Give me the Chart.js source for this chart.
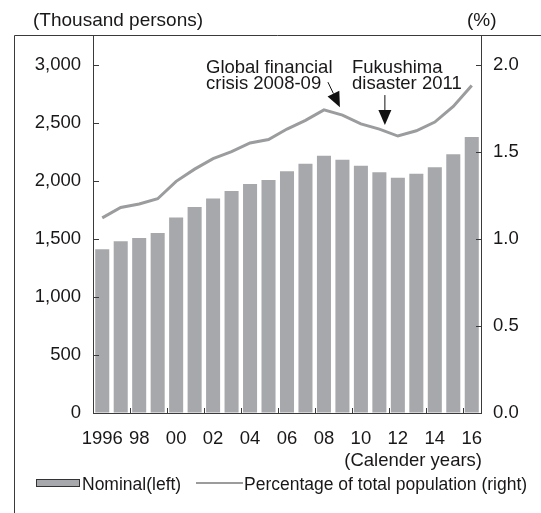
<!DOCTYPE html>
<html>
<head>
<meta charset="utf-8">
<script src="https://cdn.jsdelivr.net/npm/chart.js@4/dist/chart.umd.min.js"></script>
<style>
  html, body { margin: 0; padding: 0; background: #fff; }
  #wrap { width: 541px; height: 513px; }
</style>
</head>
<body>
<div id="wrap"><canvas id="chart"></canvas></div>
<script>
const years = ['1996','1997','1998','1999','2000','2001','2002','2003','2004','2005','2006',
               '2007','2008','2009','2010','2011','2012','2013','2014','2015','2016'];
const xTickLabels = ['1996','','98','','00','','02','','04','','06','','08','','10','','12','','14','','16'];
const leftTicks = [0, 500, 1000, 1500, 2000, 2500, 3000];
const rightTicks = [0, 0.5, 1.0, 1.5, 2.0];
// foreign residents, thousand persons (left axis)
const nominal = [1410,1479,1508,1551,1684,1773,1848,1911,1972,2006,2081,2147,2216,2181,2130,2073,2026,2060,2116,2228,2377];
// share of total population, % (right axis)
const pct = [1.12,1.18,1.20,1.23,1.33,1.40,1.46,1.50,1.55,1.57,1.63,1.68,1.74,1.71,1.66,1.63,1.59,1.62,1.67,1.76,1.88];

const FONT = 'Liberation Sans, Arial, Helvetica, sans-serif';
const TEXT = '#1a1718';
const AXIS = '#3a3a3a';
const BAR = '#a7a8ab';
const LINE = '#9b9c9e';

function arrow(ctx, x0, y0, x1, y1) {
    const ang = Math.atan2(y1 - y0, x1 - x0);
    const len = 15, half = 6.5;
    const bx = x1 - len * Math.cos(ang), by = y1 - len * Math.sin(ang);
    ctx.strokeStyle = '#111';
    ctx.lineWidth = 1;
    ctx.beginPath();
    ctx.moveTo(x0, y0);
    ctx.lineTo(bx, by);
    ctx.stroke();
    ctx.fillStyle = '#111';
    ctx.beginPath();
    ctx.moveTo(x1, y1);
    ctx.lineTo(bx + half * Math.sin(ang), by - half * Math.cos(ang));
    ctx.lineTo(bx - half * Math.sin(ang), by + half * Math.cos(ang));
    ctx.closePath();
    ctx.fill();
}

const extras = {
    id: 'extras',
    afterDraw(chart) {
        const ctx = chart.ctx;
        const area = chart.chartArea;
        const x = chart.scales.x, y = chart.scales.y, y1 = chart.scales.y1;
        ctx.save();

        // outer frame (top + left)
        ctx.strokeStyle = AXIS;
        ctx.lineWidth = 1;
        ctx.beginPath();
        ctx.moveTo(14.5, 513);
        ctx.lineTo(14.5, area.top + 0.5);
        ctx.lineTo(541, area.top + 0.5);
        ctx.stroke();

        // inward tick marks
        ctx.beginPath();
        y.ticks.forEach(t => {
            if (t.value === 0) return;
            const py = Math.round(y.getPixelForValue(t.value)) + 0.5;
            ctx.moveTo(area.left, py);
            ctx.lineTo(area.left + 6, py);
        });
        y1.ticks.forEach(t => {
            if (t.value === 0) return;
            const py = Math.round(y1.getPixelForValue(t.value)) + 0.5;
            ctx.moveTo(area.right, py);
            ctx.lineTo(area.right - 5, py);
        });
        for (let i = 2; i < years.length; i += 2) {
            const px = Math.round((x.getPixelForValue(i - 1) + x.getPixelForValue(i)) / 2) + 0.5;
            ctx.moveTo(px, area.bottom);
            ctx.lineTo(px, area.bottom - 5);
        }
        ctx.stroke();

        // axis titles
        ctx.fillStyle = TEXT;
        ctx.font = '19px ' + FONT;
        ctx.textBaseline = 'alphabetic';
        ctx.textAlign = 'left';
        ctx.fillText('(Thousand persons)', 33, 26);
        ctx.fillText('(%)', 467, 26);
        ctx.font = '18.5px ' + FONT;
        ctx.textAlign = 'right';
        ctx.fillText('(Calender years)', area.right + 1, 466);

        // annotations
        ctx.textAlign = 'left';
        ctx.fillText('Global financial', 206, 73);
        ctx.fillText('crisis 2008-09', 206, 89);
        ctx.fillText('Fukushima', 352, 73);
        ctx.fillText('disaster 2011', 352, 89);
        const gx = x.getPixelForValue(13) - 2.5, gy = y1.getPixelForValue(pct[13]) - 8;
        arrow(ctx, gx - 12, gy - 25, gx, gy);
        const fx = x.getPixelForValue(15) + 5.5, fy = y1.getPixelForValue(pct[15]) - 4;
        arrow(ctx, fx, fy - 30, fx, fy);

        // legend
        ctx.fillStyle = BAR;
        ctx.fillRect(36, 479, 44, 8);
        ctx.strokeStyle = '#333';
        ctx.lineWidth = 1;
        ctx.strokeRect(36.5, 479.5, 43, 7);
        ctx.fillStyle = TEXT;
        ctx.font = '17.5px ' + FONT;
        ctx.textAlign = 'left';
        ctx.fillText('Nominal(left)', 82, 490);
        ctx.strokeStyle = LINE;
        ctx.lineWidth = 2;
        ctx.beginPath();
        ctx.moveTo(196, 483);
        ctx.lineTo(243, 483);
        ctx.stroke();
        ctx.fillText('Percentage of total population (right)', 244, 490);

        ctx.restore();
    }
};

const tickFont = { family: FONT, size: 18.5 };

new Chart(document.getElementById('chart'), {
    data: {
        labels: years,
        datasets: [
            {
                type: 'line',
                label: 'Percentage of total population (right)',
                data: pct,
                yAxisID: 'y1',
                borderColor: LINE,
                borderWidth: 3,
                pointRadius: 0,
                tension: 0,
                order: 0
            },
            {
                type: 'bar',
                label: 'Nominal(left)',
                data: nominal,
                yAxisID: 'y',
                backgroundColor: BAR,
                borderWidth: 0,
                barPercentage: 0.76,
                categoryPercentage: 1,
                order: 1
            }
        ]
    },
    options: {
        responsive: true,
        maintainAspectRatio: false,
        animation: false,
        layout: { padding: { top: 35, left: 0, right: 0, bottom: 0 } },
        plugins: {
            legend: { display: false },
            tooltip: { enabled: false }
        },
        scales: {
            x: {
                type: 'category',
                position: 'bottom',
                afterFit: s => { s.height = 100; },
                grid: { display: true, drawOnChartArea: false, drawTicks: false },
                border: { color: AXIS, width: 1 },
                ticks: {
                    callback: (v, i) => xTickLabels[i],
                    autoSkip: false,
                    maxRotation: 0,
                    padding: 15,
                    color: TEXT,
                    font: tickFont
                }
            },
            y: {
                position: 'left',
                min: 0,
                max: 3255,
                afterFit: s => { s.width = 93; },
                afterBuildTicks: s => { s.ticks = leftTicks.map(v => ({ value: v })); },
                grid: { display: true, drawOnChartArea: false, drawTicks: false },
                border: { color: AXIS, width: 1 },
                ticks: {
                    padding: 12,
                    autoSkip: false,
                    color: TEXT,
                    font: tickFont,
                    callback: v => v.toLocaleString('en-US')
                }
            },
            y1: {
                position: 'right',
                min: 0,
                max: 2.17,
                afterFit: s => { s.width = 60; },
                afterBuildTicks: s => { s.ticks = rightTicks.map(v => ({ value: v })); },
                grid: { display: true, drawOnChartArea: false, drawTicks: false },
                border: { color: AXIS, width: 1 },
                ticks: {
                    padding: 12,
                    autoSkip: false,
                    color: TEXT,
                    font: tickFont,
                    callback: v => v.toFixed(1)
                }
            }
        }
    },
    plugins: [extras]
});
</script>
</body>
</html>
